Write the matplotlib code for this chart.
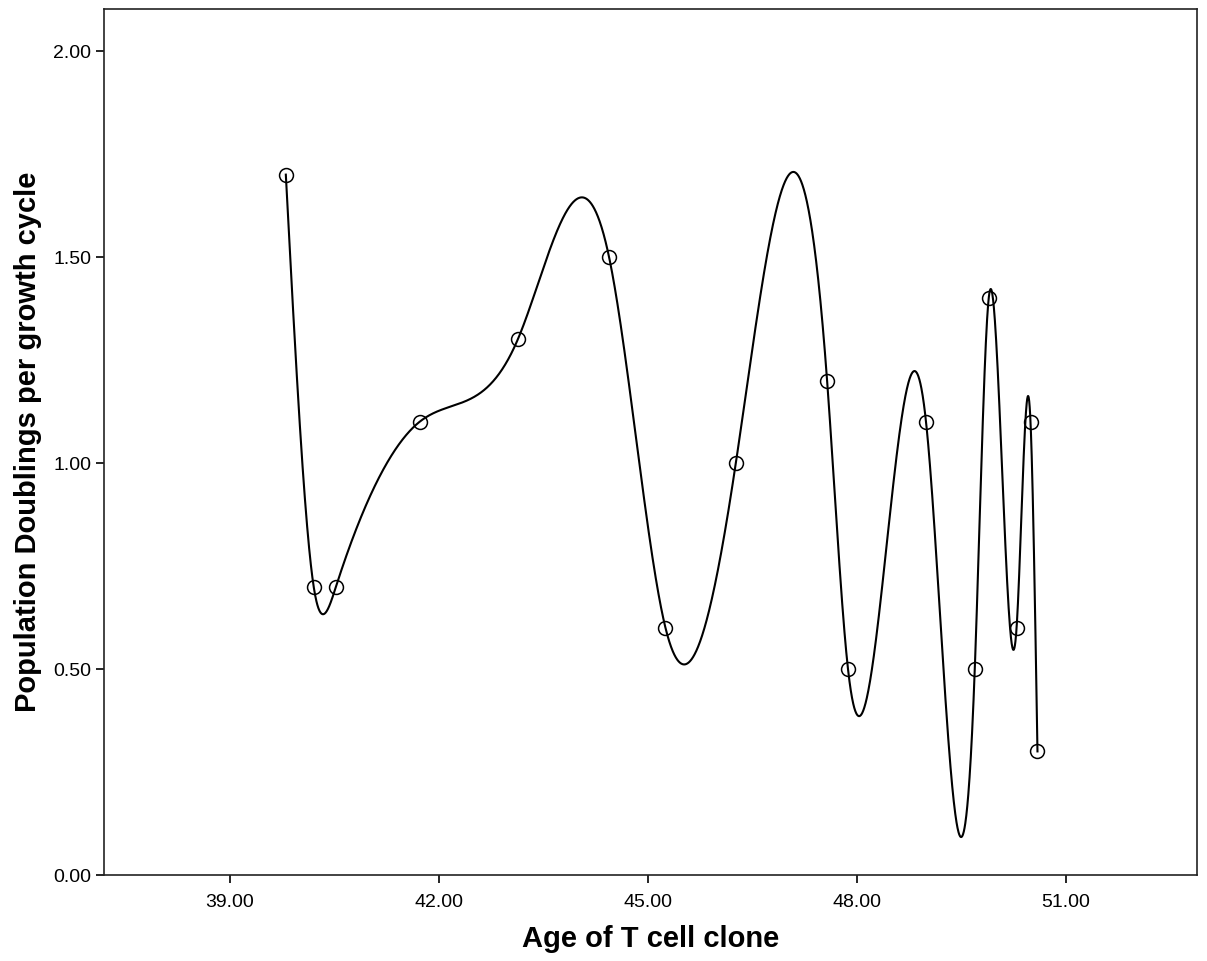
import numpy as np
import matplotlib
matplotlib.use("Agg")
import matplotlib.pyplot as plt

plt.rcParams['font.family'] = ['Liberation Sans', 'DejaVu Sans']

# Clone age and population doublings per growth cycle
age = [39.80, 40.20, 40.52, 41.72, 43.13, 44.44, 45.25, 46.26, 47.57,
       47.87, 48.99, 49.69, 49.89, 50.29, 50.49, 50.59]
doublings = [1.70, 0.70, 0.70, 1.10, 1.30, 1.50, 0.60, 1.00, 1.20,
             0.50, 1.10, 0.50, 1.40, 0.60, 1.10, 0.30]

x_ticks = [39.0, 42.0, 45.0, 48.0, 51.0]
y_ticks = [0.0, 0.5, 1.0, 1.5, 2.0]


def natural_cubic_spline(x, y, xs):
    x = np.asarray(x, float)
    y = np.asarray(y, float)
    n = len(x)
    h = np.diff(x)
    A = np.zeros((n, n))
    b = np.zeros(n)
    A[0, 0] = 1.0
    A[-1, -1] = 1.0
    for i in range(1, n - 1):
        A[i, i - 1] = h[i - 1]
        A[i, i] = 2 * (h[i - 1] + h[i])
        A[i, i + 1] = h[i]
        b[i] = 6 * ((y[i + 1] - y[i]) / h[i] - (y[i] - y[i - 1]) / h[i - 1])
    M = np.linalg.solve(A, b)
    idx = np.clip(np.searchsorted(x, xs) - 1, 0, n - 2)
    x0, x1 = x[idx], x[idx + 1]
    hh = x1 - x0
    t0 = x1 - xs
    t1 = xs - x0
    return (M[idx] * t0 ** 3 / (6 * hh) + M[idx + 1] * t1 ** 3 / (6 * hh)
            + (y[idx] / hh - M[idx] * hh / 6) * t0
            + (y[idx + 1] / hh - M[idx + 1] * hh / 6) * t1)


fig = plt.figure(figsize=(12.07, 9.61), dpi=100)
ax = fig.add_axes([104 / 1207, 86 / 961, 1093 / 1207, 866 / 961])

xs = np.linspace(age[0], age[-1], 3000)
ax.plot(xs, natural_cubic_spline(age, doublings, xs), color='black', lw=1.5)
ax.plot(age, doublings, linestyle='none', marker='o', markersize=10,
        markerfacecolor='none', markeredgecolor='black', markeredgewidth=1.1)

ax.set_xlim(37.19, 52.88)
ax.set_ylim(0.0, 2.102)
ax.set_xticks(x_ticks)
ax.set_yticks(y_ticks)
ax.set_xticklabels([f"{v:.2f}" for v in x_ticks])
ax.set_yticklabels([f"{v:.2f}" for v in y_ticks])
ax.tick_params(direction='out', length=6, width=1.2, labelsize=14,
               colors='black')
ax.tick_params(axis='x', pad=8)
ax.tick_params(axis='y', pad=3)
for s in ax.spines.values():
    s.set_linewidth(1.2)
    s.set_color('#222222')

ax.set_xlabel('Age of T cell clone', fontsize=21, fontweight='bold', labelpad=10)
ax.set_ylabel('Population Doublings per growth cycle', fontsize=21,
              fontweight='bold', labelpad=8)

fig.savefig('out.png', dpi=100, facecolor='white')
